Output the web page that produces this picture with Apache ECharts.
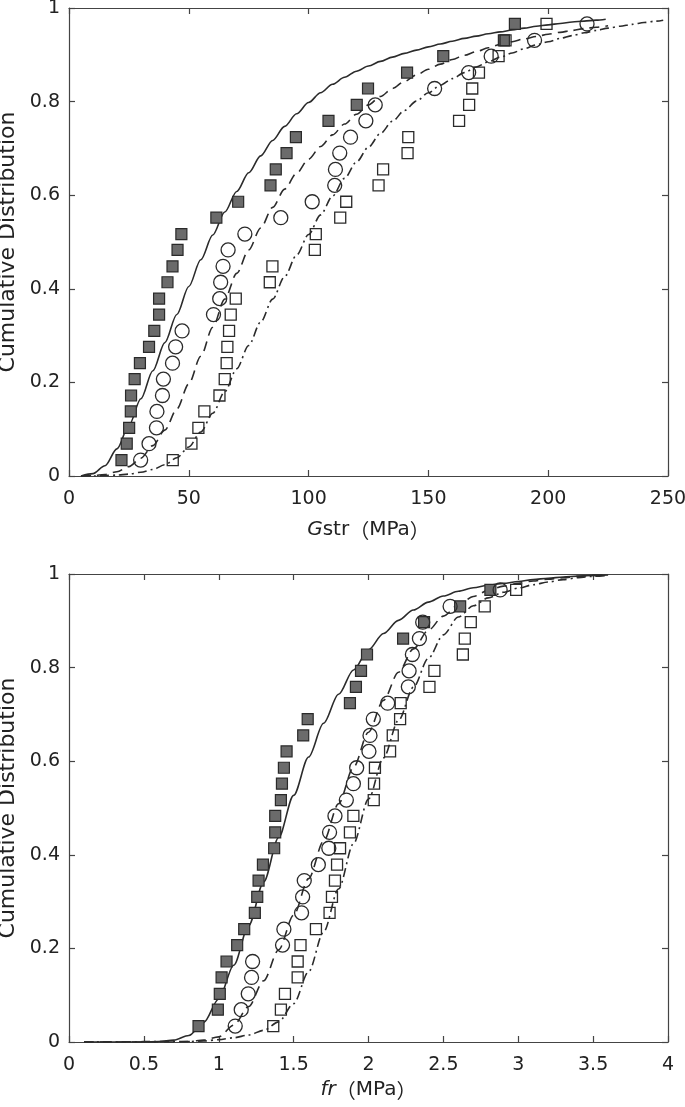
<!DOCTYPE html>
<html>
<head>
<meta charset="utf-8">
<script src="https://cdn.jsdelivr.net/npm/echarts@6/dist/echarts.min.js"></script>
<style>
html,body{margin:0;padding:0;background:#fff;}
#chart{width:685px;height:1107px;}
</style>
</head>
<body>
<div id="chart"></div>
<script>
// ---- shared cumulative levels (plotting positions) ----
const cdfLevels = [0.034, 0.069, 0.103, 0.138, 0.172, 0.207, 0.241, 0.276, 0.310, 0.345,
  0.379, 0.414, 0.448, 0.483, 0.517, 0.552, 0.586, 0.621, 0.655, 0.690,
  0.724, 0.759, 0.793, 0.828, 0.862, 0.897, 0.931, 0.966];

// ---- Top chart: Gstr (MPa) ----
const gstrFilled = [21.9, 24.1, 25.1, 25.8, 25.9, 27.4, 29.6, 33.4, 35.6, 37.6,
  37.6, 41.1, 43.2, 45.3, 46.9, 61.5, 70.6, 84.1, 86.3, 90.8,
  94.7, 108.3, 120.1, 124.8, 141.1, 156.2, 181.5, 186.1];
const gstrCircle = [29.9, 33.4, 36.5, 36.7, 39.0, 39.4, 43.2, 44.5, 47.2, 60.3,
  62.9, 63.3, 64.3, 66.4, 73.4, 88.4, 101.5, 110.9, 111.2, 113.0,
  117.5, 123.9, 127.8, 152.6, 166.8, 176.2, 194.3, 216.2];
const gstrOpen = [43.3, 51.1, 54.0, 56.5, 62.8, 65.0, 65.8, 66.1, 66.8, 67.5,
  69.6, 83.8, 84.9, 102.6, 103.0, 113.2, 115.7, 129.2, 131.1, 141.3,
  141.6, 162.8, 167.0, 168.3, 171.1, 179.3, 182.2, 199.3];

const gstrSolidX = [5,10,15,20,25,30,35,40,45,50,55,60,65,70,75,80,85,90,95,100,105,110,115,120,125,130,135,140,145,150,155,160,165,170,175,180,185,190,195,200,205,210,215,220,224];
const gstrSolidY = [0,0.005,0.022,0.058,0.108,0.165,0.225,0.285,0.345,0.405,0.462,0.515,0.564,0.608,0.648,0.684,0.717,0.747,0.774,0.798,0.819,0.837,0.852,0.865,0.876,0.886,0.895,0.903,0.910,0.917,0.923,0.929,0.935,0.940,0.945,0.949,0.953,0.957,0.961,0.964,0.967,0.970,0.972,0.974,0.976];
const gstrDashX = [5,10,15,20,25,30,35,40,45,50,55,60,65,70,75,80,85,90,95,100,105,110,115,120,125,130,135,140,145,150,155,160,165,170,175,180,185,190,195,200,205,210,215,220,225];
const gstrDashY = [0,0.001,0.003,0.009,0.02,0.038,0.065,0.098,0.143,0.197,0.256,0.318,0.378,0.433,0.483,0.530,0.574,0.613,0.647,0.677,0.704,0.729,0.752,0.773,0.793,0.811,0.828,0.843,0.857,0.869,0.88,0.89,0.899,0.907,0.915,0.922,0.928,0.934,0.939,0.944,0.948,0.952,0.956,0.959,0.962];
const gstrDotX = [5,10,15,20,25,30,35,40,45,50,55,60,65,70,75,80,85,90,95,100,105,110,115,120,125,130,135,140,145,150,155,160,165,170,175,180,185,190,195,200,205,210,215,220,225,230,235,240,245,248];
const gstrDotY = [0,0,0.001,0.002,0.004,0.008,0.014,0.024,0.039,0.062,0.094,0.134,0.18,0.229,0.279,0.329,0.378,0.426,0.472,0.516,0.558,0.598,0.636,0.671,0.703,0.732,0.758,0.781,0.801,0.819,0.835,0.849,0.862,0.874,0.885,0.895,0.904,0.913,0.921,0.928,0.935,0.941,0.947,0.952,0.957,0.961,0.965,0.969,0.972,0.974];

// ---- Bottom chart: fr (MPa) ----
const frFilled = [0.865, 0.994, 1.007, 1.019, 1.052, 1.123, 1.170, 1.241, 1.257, 1.266,
  1.295, 1.370, 1.377, 1.377, 1.415, 1.422, 1.435, 1.453, 1.564, 1.594,
  1.876, 1.916, 1.950, 1.990, 2.231, 2.371, 2.612, 2.814];
const frCircle = [1.110, 1.150, 1.197, 1.219, 1.226, 1.426, 1.435, 1.553, 1.560, 1.571,
  1.665, 1.735, 1.740, 1.776, 1.852, 1.899, 1.921, 2.003, 2.010, 2.032,
  2.128, 2.266, 2.271, 2.293, 2.340, 2.362, 2.545, 2.879];
const frOpen = [1.364, 1.415, 1.442, 1.527, 1.527, 1.546, 1.649, 1.740, 1.756, 1.776,
  1.790, 1.810, 1.876, 1.899, 2.035, 2.037, 2.043, 2.144, 2.162, 2.211,
  2.215, 2.407, 2.440, 2.630, 2.643, 2.683, 2.776, 2.986];

const frSolidX = [0.1,0.5,0.6,0.7,0.8,0.9,1.0,1.1,1.2,1.3,1.4,1.5,1.6,1.7,1.8,1.9,2.0,2.1,2.2,2.3,2.4,2.5,2.6,2.7,2.8,2.9,3.0,3.1,3.2,3.3,3.4,3.5,3.6];
const frSolidY = [0,0,0.001,0.004,0.014,0.042,0.092,0.164,0.249,0.342,0.437,0.527,0.609,0.681,0.743,0.795,0.838,0.873,0.901,0.923,0.940,0.953,0.963,0.9705,0.976,0.980,0.984,0.988,0.991,0.9935,0.9955,0.997,0.998];
const frDashX = [0.1,0.7,0.8,0.9,1.0,1.1,1.2,1.3,1.4,1.5,1.6,1.7,1.8,1.9,2.0,2.1,2.2,2.3,2.4,2.5,2.6,2.7,2.8,2.9,3.0,3.1,3.2,3.3,3.4,3.5,3.6];
const frDashY = [0,0,0.001,0.004,0.011,0.036,0.076,0.131,0.197,0.271,0.349,0.429,0.509,0.587,0.662,0.73,0.79,0.84,0.88,0.91,0.934,0.952,0.965,0.974,0.98,0.985,0.989,0.992,0.995,0.997,0.998];
const frDotX = [0.1,0.8,0.9,1.0,1.1,1.2,1.3,1.4,1.5,1.6,1.7,1.8,1.9,2.0,2.1,2.2,2.3,2.4,2.5,2.6,2.7,2.8,2.9,3.0,3.1,3.2,3.3,3.4,3.5,3.6];
const frDotY = [0,0.001,0.002,0.005,0.009,0.015,0.025,0.043,0.082,0.15,0.235,0.327,0.424,0.519,0.607,0.687,0.758,0.82,0.87,0.908,0.932,0.949,0.961,0.97,0.977,0.983,0.988,0.992,0.995,0.997];

const yTicks = {min: 0, max: 1, interval: 0.2};
const gstrTicks = {min: 0, max: 250, interval: 50};
const frTicks = {min: 0, max: 4, interval: 0.5};

// ---- helpers ----
const FONT = 'DejaVu Sans';
const CJK = 'Noto Sans CJK JP';
const INK = '#2b2b2b';
function zip(xs, ys) { return xs.map((x, i) => [x, ys[i]]); }

function xAxes(gridIndex, ticks, nameRich, gap) {
  const base = {
    type: 'value', gridIndex, min: ticks.min, max: ticks.max, interval: ticks.interval,
    axisLine: {show: true, onZero: false, lineStyle: {color: '#444', width: 1.2}},
    axisTick: {show: true, inside: true, length: 6, lineStyle: {color: '#444', width: 1.2}},
    splitLine: {show: false}
  };
  return [
    Object.assign({}, base, {
      position: 'bottom',
      axisLabel: {show: true, fontFamily: FONT, fontSize: 19, color: '#222', margin: 14},
      name: nameRich, nameLocation: 'middle', nameGap: gap,
      nameTextStyle: {fontFamily: FONT, fontSize: 20, color: '#222',
        rich: {
          it: {fontFamily: FONT, fontSize: 20, fontStyle: 'italic', color: '#222'},
          rm: {fontFamily: FONT, fontSize: 20, color: '#222'},
          cj: {fontFamily: CJK, fontSize: 20, color: '#222'}
        }}
    }),
    Object.assign({}, base, {position: 'top', axisLabel: {show: false}})
  ];
}
function yAxes(gridIndex) {
  const base = {
    type: 'value', gridIndex, min: yTicks.min, max: yTicks.max, interval: yTicks.interval,
    axisLine: {show: true, onZero: false, lineStyle: {color: '#444', width: 1.2}},
    axisTick: {show: true, inside: true, length: 6, lineStyle: {color: '#444', width: 1.2}},
    splitLine: {show: false}
  };
  return [
    Object.assign({}, base, {
      position: 'left',
      axisLabel: {show: true, fontFamily: FONT, fontSize: 19, color: '#222', margin: 9},
      name: 'Cumulative Distribution', nameLocation: 'middle', nameGap: 41,
      nameTextStyle: {fontFamily: FONT, fontSize: 22, color: '#222'}
    }),
    Object.assign({}, base, {position: 'right', axisLabel: {show: false}})
  ];
}

function curve(xi, yi, xs, ys, type) {
  return {
    type: 'line', xAxisIndex: xi, yAxisIndex: yi, data: zip(xs, ys),
    showSymbol: false, symbol: 'none', smooth: 0.3, smoothMonotone: 'x',
    lineStyle: {color: INK, width: 1.6, type: type}, silent: true, z: 2
  };
}
function points(xi, yi, xs, kind) {
  const s = {type: 'scatter', xAxisIndex: xi, yAxisIndex: yi, data: zip(xs, cdfLevels), silent: true, z: 3};
  if (kind === 'filled') {
    s.symbol = 'rect'; s.symbolSize = 11;
    s.itemStyle = {color: '#6b6b6b', borderColor: '#2a2a2a', borderWidth: 1.2, opacity: 1};
  } else if (kind === 'circle') {
    s.symbol = 'circle'; s.symbolSize = 14;
    s.itemStyle = {color: 'rgba(0,0,0,0)', borderColor: '#2a2a2a', borderWidth: 1.3, opacity: 1};
  } else {
    s.symbol = 'rect'; s.symbolSize = 11;
    s.itemStyle = {color: 'rgba(0,0,0,0)', borderColor: '#2a2a2a', borderWidth: 1.3, opacity: 1};
  }
  return s;
}

const chart = echarts.init(document.getElementById('chart'), null, {renderer: 'canvas'});
const DASH = [10, 6];
const DASHDOT = [9, 4, 2, 4];

chart.setOption({
  animation: false,
  backgroundColor: '#fff',
  grid: [
    {left: 69, top: 8, width: 599, height: 468, containLabel: false, outerBoundsMode: 'none'},
    {left: 69, top: 574, width: 599, height: 468, containLabel: false, outerBoundsMode: 'none'}
  ],
  xAxis: [].concat(
    xAxes(0, gstrTicks, '{it|G}{rm|str}{cj|（}{rm|MPa}{cj|）}', 44),
    xAxes(1, frTicks, '{it|fr}{cj|（}{rm|MPa}{cj|）}', 38)
  ),
  yAxis: [].concat(yAxes(0), yAxes(1)),
  series: [
    curve(0, 0, gstrSolidX, gstrSolidY, 'solid'),
    curve(0, 0, gstrDashX, gstrDashY, DASH),
    curve(0, 0, gstrDotX, gstrDotY, DASHDOT),
    points(0, 0, gstrFilled, 'filled'),
    points(0, 0, gstrCircle, 'circle'),
    points(0, 0, gstrOpen, 'open'),
    curve(2, 2, frSolidX, frSolidY, 'solid'),
    curve(2, 2, frDashX, frDashY, DASH),
    curve(2, 2, frDotX, frDotY, DASHDOT),
    points(2, 2, frFilled, 'filled'),
    points(2, 2, frCircle, 'circle'),
    points(2, 2, frOpen, 'open')
  ]
});
</script>
</body>
</html>
